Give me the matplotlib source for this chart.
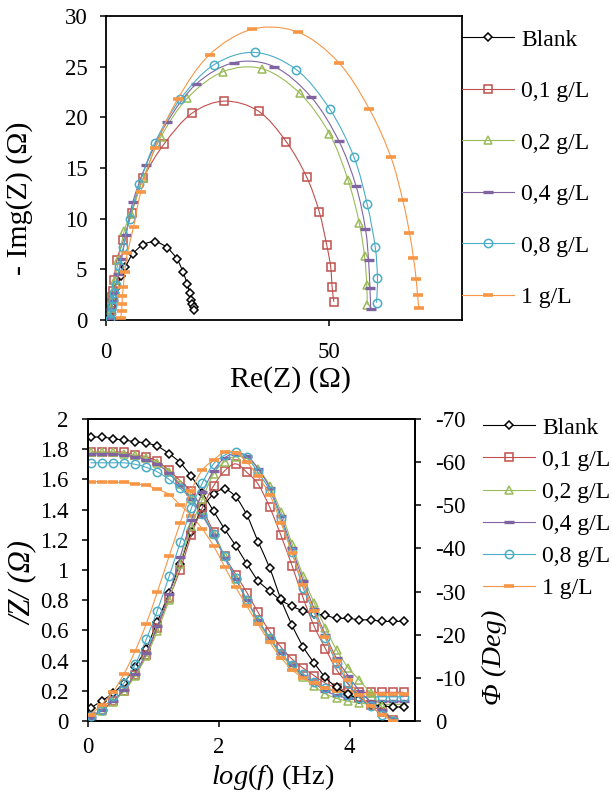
import numpy as np
import matplotlib
matplotlib.use("Agg")
import matplotlib.pyplot as plt
from matplotlib.path import Path
from matplotlib.patches import PathPatch
from matplotlib.lines import Line2D

plt.rcParams['font.family'] = ['Liberation Serif', 'DejaVu Serif']
plt.rcParams['mathtext.fontset'] = 'custom'
plt.rcParams['mathtext.rm'] = 'Liberation Serif'
plt.rcParams['mathtext.it'] = 'Liberation Serif:italic'
plt.rcParams['axes.unicode_minus'] = False

# ---------------- data ----------------
labels = ['Blank', '0,1 g/L', '0,2 g/L', '0,4 g/L', '0,8 g/L', '1 g/L']
colors = ['#000000', '#C0504D', '#9BBB59', '#8064A2', '#4BACC6', '#F79646']

# Nyquist: Re(Z) and -Img(Z)
re_blank = [0.6, 0.8, 1.0, 1.3, 1.8, 2.5, 3.3, 4.3, 6.0, 8.4, 11.1, 13.7, 15.9, 17.3, 18.2, 18.8, 19.1, 19.4, 19.7, 19.8]
im_blank = [0.1, 0.4, 0.8, 1.4, 2.3, 3.3, 4.3, 5.2, 6.5, 7.45, 7.7, 7.15, 6.05, 4.75, 3.6, 2.7, 1.95, 1.55, 1.25, 1.0]

re_01 = [0.75, 0.9, 1.05, 1.3, 1.5, 1.8, 2.4, 3.9, 5.8, 8.4, 13.1, 19.3, 26.6, 34.3, 40.5, 45.1, 47.9, 49.6, 50.5, 50.8, 51.2]
im_01 = [0.2, 0.9, 1.7, 2.3, 2.9, 3.9, 5.9, 7.85, 10.6, 14.0, 17.4, 20.4, 21.6, 20.6, 17.6, 14.1, 10.7, 7.4, 5.2, 3.3, 1.8]

re_02 = [0.9, 1.05, 1.3, 1.65, 2.0, 2.8, 4.1, 5.6, 8.4, 12.3, 18.3, 26.3, 35.1, 43.5, 50.2, 54.4, 56.9, 58.1, 58.6, 58.7]
im_02 = [0.4, 1.2, 2.05, 2.9, 3.9, 5.9, 8.8, 10.5, 14.0, 18.05, 21.9, 24.5, 24.8, 22.4, 18.4, 13.8, 9.6, 6.3, 3.5, 1.5]

re_04 = [1.05, 1.2, 1.5, 1.8, 2.8, 3.5, 4.5, 6.0, 9.0, 13.7, 20.3, 28.8, 37.8, 46.1, 52.3, 56.2, 58.3, 59.0, 59.3, 59.5]
im_04 = [0.2, 1.05, 1.9, 2.7, 4.5, 6.0, 8.4, 11.6, 15.3, 19.5, 23.3, 25.4, 25.0, 22.0, 17.7, 13.2, 9.0, 5.9, 3.2, 1.1]

re_08 = [0.9, 1.05, 1.3, 1.5, 1.8, 2.25, 3.0, 3.9, 5.3, 7.5, 11.0, 16.7, 24.3, 33.5, 42.8, 50.3, 55.7, 58.7, 60.5, 61.0, 60.8]
im_08 = [0.07, 0.7, 1.4, 2.05, 2.7, 3.5, 5.3, 7.2, 10.0, 13.4, 17.5, 21.8, 25.2, 26.4, 24.7, 20.8, 16.1, 11.4, 7.2, 4.1, 1.7]

re_1 = [3.3, 3.5, 3.6, 3.7, 3.9, 4.2, 4.8, 6.2, 7.8, 11.0, 16.1, 23.3, 32.9, 43.2, 52.3, 59.2, 64.0, 66.7, 68.2, 69.1, 69.7, 70.0, 70.3]
im_1 = [0.2, 0.9, 1.6, 2.4, 3.3, 4.7, 6.6, 9.2, 12.6, 17.0, 21.8, 26.2, 28.7, 28.4, 25.4, 20.8, 16.1, 11.8, 8.6, 6.1, 4.0, 2.5, 1.2]

# Bode: log(f), |Z| (left axis), phase (right axis)
logf = [0.04, 0.21, 0.38, 0.55, 0.72, 0.89, 1.06, 1.24, 1.41, 1.58, 1.75, 1.92, 2.09, 2.26,
        2.43, 2.60, 2.78, 2.95, 3.12, 3.29, 3.46, 3.63, 3.80, 3.98, 4.15, 4.32, 4.49, 4.66, 4.83]

z_blank = [1.88, 1.88, 1.87, 1.86, 1.85, 1.84, 1.82, 1.77, 1.71, 1.62, 1.51, 1.39, 1.27, 1.16,
           1.04, 0.93, 0.86, 0.80, 0.76, 0.73, 0.71, 0.70, 0.68, 0.68, 0.67, 0.67, 0.66, 0.66, 0.66]
z_01 = [1.78, 1.78, 1.78, 1.78, 1.76, 1.75, 1.72, 1.66, 1.59, 1.52, 1.40, 1.25, 1.09, 0.97,
        0.85, 0.72, 0.59, 0.49, 0.41, 0.35, 0.30, 0.25, 0.22, 0.20, 0.19, 0.19, 0.19, 0.19, 0.19]
z_02 = [1.78, 1.78, 1.78, 1.77, 1.76, 1.74, 1.71, 1.65, 1.57, 1.48, 1.37, 1.24, 1.09, 0.94,
        0.80, 0.66, 0.54, 0.44, 0.36, 0.29, 0.23, 0.18, 0.15, 0.13, 0.12, 0.11, 0.11, 0.11, 0.11]
z_04 = [1.77, 1.77, 1.77, 1.76, 1.75, 1.73, 1.70, 1.64, 1.56, 1.47, 1.36, 1.23, 1.08, 0.94,
        0.80, 0.67, 0.55, 0.45, 0.37, 0.30, 0.25, 0.20, 0.17, 0.15, 0.14, 0.13, 0.13, 0.13, 0.13]
z_08 = [1.71, 1.71, 1.71, 1.71, 1.70, 1.68, 1.65, 1.60, 1.54, 1.47, 1.37, 1.24, 1.09, 0.95,
        0.80, 0.67, 0.55, 0.45, 0.37, 0.31, 0.26, 0.22, 0.19, 0.17, 0.16, 0.16, 0.16, 0.16, 0.16]
z_1 = [1.585, 1.585, 1.58, 1.58, 1.57, 1.56, 1.535, 1.50, 1.43, 1.36, 1.27, 1.16, 1.02, 0.885,
       0.76, 0.64, 0.52, 0.42, 0.34, 0.285, 0.25, 0.22, 0.20, 0.19, 0.18, 0.18, 0.18, 0.18, 0.18]

ph_blank = [-3.0, -4.7, -6.4, -8.9, -12.6, -16.8, -23.0, -29.7, -36.5, -43.9, -49.3, -52.6, -53.7, -51.9,
            -47.7, -41.6, -35.4, -28.2, -22.2, -17.2, -13.4, -10.1, -7.8, -6.2, -5.0, -3.8, -3.5, -3.3, -3.2]
ph_01 = [-1.0, -2.6, -4.6, -7.0, -10.7, -15.2, -21.6, -28.5, -35.1, -43.0, -49.5, -54.5, -58.0, -59.6,
         -57.6, -54.9, -49.5, -43.0, -36.0, -28.5, -21.9, -16.8, -11.9, -8.5, -5.5, -3.7, -2.2, -0.2, 2.0]
ph_02 = [-0.6, -2.4, -4.4, -6.9, -10.4, -15.0, -20.8, -28.1, -36.5, -45.1, -51.5, -57.3, -60.1, -61.3,
         -60.8, -58.5, -54.5, -48.5, -41.0, -33.5, -27.3, -21.6, -16.5, -12.3, -9.5, -6.4, -3.4, -0.2, 2.0]
ph_04 = [-0.8, -2.5, -4.6, -7.3, -11.0, -15.8, -22.0, -29.5, -38.0, -46.5, -53.0, -58.0, -61.0, -62.0,
         -61.5, -58.5, -54.0, -47.5, -40.0, -32.5, -26.0, -20.0, -14.5, -10.5, -7.0, -4.5, -2.5, -0.5, 1.0]
ph_08 = [-1.1, -2.6, -5.7, -8.8, -13.1, -18.9, -25.6, -33.5, -41.4, -49.3, -55.2, -59.6, -61.6, -62.4,
         -61.1, -57.6, -53.4, -46.8, -39.1, -30.8, -25.0, -19.2, -13.4, -8.8, -5.3, -3.4, -1.5, 0.0, 2.0]
ph_1 = [-1.5, -3.8, -6.7, -10.9, -16.2, -22.5, -29.9, -38.2, -45.9, -53.4, -58.2, -60.5, -62.4, -62.2,
        -60.0, -56.7, -52.4, -46.0, -38.9, -31.5, -25.5, -19.5, -14.0, -9.5, -6.0, -3.5, -1.5, 0.0, 2.0]

nyq_re = [re_blank, re_01, re_02, re_04, re_08, re_1]
nyq_im = [im_blank, im_01, im_02, im_04, im_08, im_1]
bode_z = [z_blank, z_01, z_02, z_04, z_08, z_1]
bode_ph = [ph_blank, ph_01, ph_02, ph_04, ph_08, ph_1]

# ---------------- styles ----------------
mstyles = [
    dict(marker='D', ms=4.5, mfc='white', mew=1.1),
    dict(marker='s', ms=6.0, mfc='none', mew=1.1),
    dict(marker='^', ms=6.0, mfc='none', mew=1.1),
    dict(marker='_', ms=6.5, mew=2.4),
    dict(marker='o', ms=6.0, mfc='none', mew=1.1),
    dict(marker='_', ms=7.5, mew=2.6),
]


def smooth_path(x, y):
    pts = np.column_stack([np.asarray(x, float), np.asarray(y, float)])
    n = len(pts)
    verts = [pts[0]]
    codes = [Path.MOVETO]
    for i in range(n - 1):
        p0 = pts[i - 1] if i > 0 else pts[i]
        p1 = pts[i]
        p2 = pts[i + 1]
        p3 = pts[i + 2] if i + 2 < n else pts[i + 1]
        verts += [p1 + (p2 - p0) / 6.0, p2 - (p3 - p1) / 6.0, p2]
        codes += [Path.CURVE4] * 3
    return Path(verts, codes)


def draw_series(ax, x, y, color, st, z):
    ax.add_patch(PathPatch(smooth_path(x, y), fill=False, edgecolor=color,
                           lw=0.8, zorder=z))
    ax.plot(x, y, linestyle='none', color=color, mec=color, zorder=z + 0.1, **st)


fig = plt.figure(figsize=(6.12, 7.96), dpi=100)

# ---------------- Nyquist ----------------
ax1 = fig.add_axes([106 / 612, 1 - 320 / 796, 356 / 612, 304 / 796])
for i in range(6):
    draw_series(ax1, nyq_re[i], nyq_im[i], colors[i], mstyles[i], 2 + i * 0.2)
ax1.set_xlim(0, 80)
ax1.set_ylim(0, 30)
ax1.set_xticks([0, 50])
ax1.set_yticks(range(0, 31, 5))
ax1.tick_params(axis='y', direction='out', length=4.5, width=1.1, labelsize=16.5, pad=9)
ax1.tick_params(axis='x', direction='out', length=4.5, width=1.1, labelsize=16.5, pad=11)
for s in ax1.spines.values():
    s.set_linewidth(1.3)
ax1.set_xlabel('Re(Z) (Ω)', fontsize=21.5)
ax1.set_ylabel('- Img(Z) (Ω)', fontsize=21.5)
ax1.xaxis.set_label_coords(0.517, -0.15)
ax1.yaxis.set_label_coords(-0.205, 0.40)

handles = [Line2D([], [], color=colors[i], lw=0.8, mec=colors[i], **mstyles[i]) for i in range(6)]
fig.legend(handles, labels, loc='upper left', bbox_to_anchor=(462 / 612, 1 - 29 / 796),
           frameon=False, fontsize=17, handlelength=2.2, handletextpad=0.3,
           labelspacing=1.27, borderpad=0, borderaxespad=0)

# ---------------- Bode ----------------
ax3 = fig.add_axes([88 / 612, 1 - 721 / 796, 327 / 612, 302 / 796])
ax4 = ax3.twinx()
for i in range(6):
    draw_series(ax3, logf, bode_z[i], colors[i], mstyles[i], 2 + i * 0.2)
    draw_series(ax4, logf, bode_ph[i], colors[i], mstyles[i], 2 + i * 0.2)
ax3.set_xlim(0, 5)
ax3.set_ylim(0, 2)
ax3.set_xticks([0, 2, 4])
zt = [round(0.2 * k, 1) for k in range(11)]
ax3.set_yticks(zt)
ax3.set_yticklabels([f'{v:g}' for v in zt])
ax4.set_ylim(0, -70)
pt = list(range(0, -71, -10))
ax4.set_yticks(pt)
ax4.set_yticklabels([str(v) for v in pt])
ax3.tick_params(axis='y', direction='out', length=4.5, width=1.1, labelsize=16.5, pad=9.5)
ax3.tick_params(axis='x', direction='out', length=4.5, width=1.1, labelsize=16.5, pad=7)
ax4.tick_params(axis='y', direction='out', length=4.5, width=1.1, labelsize=16.5, pad=10)
for a in (ax3, ax4):
    for s in a.spines.values():
        s.set_linewidth(1.3)
ax3.set_xlabel(r'$log(f)$ (Hz)', fontsize=20.5)
ax3.set_ylabel('/Z/ (Ω)', fontsize=22, style='italic')
ax4.set_ylabel('Φ (Deg)', fontsize=20.5, style='italic')
ax3.xaxis.set_label_coords(0.566, -0.135)
ax3.yaxis.set_label_coords(-0.153, 0.457)
ax4.yaxis.set_label_coords(1.205, 0.212)

fig.legend(handles, labels, loc='upper left', bbox_to_anchor=(483 / 612, 1 - 417 / 796),
           frameon=False, fontsize=17, handlelength=2.2, handletextpad=0.3,
           labelspacing=0.45, borderpad=0, borderaxespad=0)

fig.savefig('out.png', dpi=100)
